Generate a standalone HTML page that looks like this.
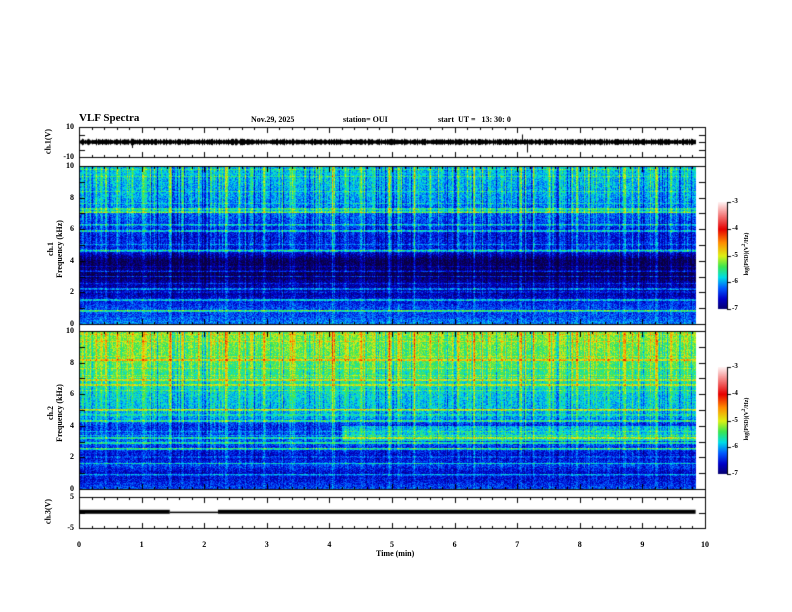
<!DOCTYPE html>
<html><head><meta charset="utf-8"><style>
body{margin:0;background:#fff;}
#wrap{position:relative;width:792px;height:612px;overflow:hidden;background:#fff;font-family:"Liberation Serif",serif;font-weight:bold;color:#000;}
canvas{position:absolute;left:0;top:0;}
.t{position:absolute;font-size:8px;white-space:nowrap;}
.rot{position:absolute;transform:rotate(-90deg);transform-origin:center;font-size:8px;white-space:nowrap;text-align:center;}
</style></head><body>
<div id="wrap">
<canvas id="c" width="792" height="612"></canvas>
<div class="t" style="left:79px;top:112px;font-size:11px">VLF Spectra</div>
<div class="t" style="left:251px;top:115px">Nov.29, 2025</div>
<div class="t" style="left:343px;top:115px">station= OUI</div>
<div class="t" style="left:438px;top:115px">start&nbsp; UT =&nbsp;&nbsp; 13: 30: 0</div>
<div class="rot" style="left:23px;top:137px;width:50px">ch.1(V)</div>
<div class="rot" style="left:5px;top:240px;width:100px;line-height:9px">ch.1<br>Frequency (kHz)</div>
<div class="rot" style="left:5px;top:404px;width:100px;line-height:9px">ch.2<br>Frequency (kHz)</div>
<div class="rot" style="left:23px;top:507px;width:50px">ch.3(V)</div>
<div class="t" style="left:376px;top:549px">Time (min)</div>
<div class="rot" style="left:706px;top:250px;width:80px;font-size:6px">log(PSD)(V<sup>2</sup>/Hz)</div>
<div class="rot" style="left:706px;top:415px;width:80px;font-size:6px">log(PSD)(V<sup>2</sup>/Hz)</div>
<div id="labels"></div>
</div>
<script>
// ---- data arrays ----
const xTicks=[0,1,2,3,4,5,6,7,8,9,10];
const freqTicks=[0,2,4,6,8,10];
const cbTicks=[-3,-4,-5,-6,-7];
// per-frequency mean log PSD (0..10 kHz, 0.5 kHz steps)
const ch1Profile=[-6.1,-6.3,-6.3,-6.5,-6.8,-6.7,-7.1,-7.0,-7.1,-6.6,-6.4,-6.5,-6.4,-6.3,-6.2,-6.1,-6.0,-5.95,-5.9,-5.85,-5.85];
const ch2Profile=[-6.3,-6.5,-6.6,-6.3,-6.6,-6.4,-6.2,-6.3,-6.4,-6.0,-5.9,-5.85,-5.8,-5.7,-5.6,-5.5,-5.4,-5.35,-5.3,-5.25,-5.25];
// 3-4 kHz band after 4.2 min in ch2
const ch2BandStart=4.2, ch2BandLevel=0.5;
// impulsive bursts (time min, strength)
const burstTimes=[0.1,0.35,0.6,0.85,1.05,1.3,1.45,1.65,1.9,2.1,2.35,2.55,2.75,2.95,3.2,3.4,3.6,3.8,4.05,4.25,4.5,4.7,4.95,5.1,5.35,5.6,5.8,6.05,6.3,6.55,6.8,7.05,7.25,7.5,7.7,7.95,8.2,8.45,8.7,8.95,9.2,9.45,9.7];
const burstStrength=[0.8,0.6,1.0,0.7,0.9,0.6,1.2,0.7,0.8,0.6,0.9,0.7,0.8,1.0,0.6,0.9,0.7,0.8,1.0,0.6,0.9,0.7,1.3,0.8,0.7,0.9,0.6,0.8,0.7,0.9,0.6,1.3,0.8,1.1,0.7,1.0,0.8,0.6,0.9,1.1,0.7,0.8,0.6];
// narrowband lines (kHz, extra level)
const ch1Lines=[0.8,1.5,2.2,3.0,3.3,4.6,5.9,6.3,7.1,7.3];
const ch2Lines=[0.9,1.6,2.5,2.9,3.2,4.3,5.0,6.6,6.9,8.2];
// waveform
const ch1Spikes=[0.85,1.3,2.5,3.5,5.3,7.07,7.15,8.3];
const ch1SpikeAmp=[-4,2,-2,-1.5,-1,5,-7,-1];
const ch3Segments=[[0,1.45,1.2,4],[1.45,2.22,1.0,1.5],[2.22,9.85,1.2,4]];
const tMax=9.85;
// ---- layout ----
const X0=79,X1=705;
const P1={t:127,b:157},S1={t:166,b:324},S2={t:331,b:489},P4={t:497,b:528};
const cv=document.getElementById('c'),g=cv.getContext('2d');
const xs=t=>X0+(X1-X0)*t/10;
function cmap(v){
 const stops=[[-7.2,[10,0,60]],[-6.6,[0,0,200]],[-6.2,[0,90,255]],[-5.8,[0,220,230]],[-5.4,[60,230,80]],[-5.0,[220,240,20]],[-4.5,[255,140,0]],[-4.0,[230,0,0]],[-3.0,[255,240,240]]];
 if(v<=stops[0][0])return stops[0][1];
 for(let i=1;i<stops.length;i++){if(v<=stops[i][0]){const a=stops[i-1],b=stops[i],f=(v-a[0])/(b[0]-a[0]);return a[1].map((c,k)=>Math.round(c+(b[1][k]-c)*f));}}
 return stops[stops.length-1][1];
}
function hash(a,b){let h=(a*374761393+b*668265263)|0;h=(h^(h>>>13))*1274126177|0;return ((h^(h>>>16))>>>0)/4294967296;}
function spec(P,profile,lines,isCh2){
 const W=Math.round(xs(tMax))-X0,H=P.b-P.t;
 const img=g.createImageData(W,H);
 for(let x=0;x<W;x++){
  const t=x/(X1-X0)*10;
  let burst=0;
  burstTimes.forEach((bt,i)=>{const d=Math.abs(t-bt)*(X1-X0)/10;if(d<1.5)burst=Math.max(burst,burstStrength[i]*(1-d/2));});
  const hc=hash(x,7);
  const colNoise=hc<0.2?0.5*hash(x,9):(hc>0.75?-0.5*hash(x,13):0);
  for(let y=0;y<H;y++){
   const f=10*(H-1-y)/(H-1);
   const fi=f*2,i0=Math.floor(fi),i1=Math.min(20,i0+1);
   let v=profile[i0]+(profile[i1]-profile[i0])*(fi-i0);
   if(isCh2&&t>ch2BandStart&&f>3&&f<4)v+=ch2BandLevel;
   v+=burst*(0.2+0.7*f/10)+colNoise*(0.3+f/10);
   lines.forEach(l=>{if(Math.abs(f-l)<0.05)v+=0.6;});
   if(hash(y,3)<0.1)v+=0.3;
   v+=(hash(x,y)-0.5)*0.6;
   const c=cmap(v),k=(y*W+x)*4;
   img.data[k]=c[0];img.data[k+1]=c[1];img.data[k+2]=c[2];img.data[k+3]=255;
  }
 }
 g.putImageData(img,X0,P.t);
}
spec(S1,ch1Profile,ch1Lines,false);
spec(S2,ch2Profile,ch2Lines,true);
// waveform ch1
const y1=v=>P1.t+(P1.b-P1.t)*(10-v)/20;
g.fillStyle='#000';
for(let x=X0;x<=xs(tMax);x++){const a=1+hash(x,11)*1.2;g.fillRect(x,y1(a),1,y1(-a)-y1(a));}
ch1Spikes.forEach((t,i)=>{const a=ch1SpikeAmp[i];g.fillRect(Math.round(xs(t)),Math.min(y1(0),y1(a)),1,Math.abs(y1(a)-y1(0)));});
// ch3
const y4=v=>P4.t+(P4.b-P4.t)*(5-v)/10;
ch3Segments.forEach(s=>{g.fillRect(xs(s[0]),y4(s[2])-s[3]/2+3,xs(s[1])-xs(s[0]),s[3]);});
// frames
g.strokeStyle='#000';g.lineWidth=1;
g.strokeRect(X0+.5,P1.t+.5,X1-X0,P4.b-P1.t);
[[P1.b,S1.t],[S1.b,S2.t],[S2.b,P4.t]].forEach(([a,b])=>{g.beginPath();g.moveTo(X0,a+.5);g.lineTo(X1,a+.5);g.moveTo(X0,b+.5);g.lineTo(X1,b+.5);g.stroke();});
// x ticks
[P1,S1,S2,P4].forEach(P=>{for(let m=0;m<=50;m++){const x=Math.round(xs(m/5))+.5,L=m%5?3:6;g.beginPath();g.moveTo(x,P.t);g.lineTo(x,P.t+L);g.moveTo(x,P.b+1);g.lineTo(x,P.b+1-L);g.stroke();}});
// y ticks
function yt(P,vals,lo,hi){vals.forEach(v=>{const y=Math.round(P.b-(P.b-P.t)*(v-lo)/(hi-lo))+.5;g.beginPath();g.moveTo(X0,y);g.lineTo(X0+6,y);g.moveTo(X1,y);g.lineTo(X1-6,y);g.stroke();});}
yt(S1,[0,1,2,3,4,5,6,7,8,9,10],0,10);yt(S2,[0,1,2,3,4,5,6,7,8,9,10],0,10);
yt(P1,[-10,-5,0,5,10],-10,10);yt(P4,[-5,0,5],-5,5);
// colorbars
function cbar(t,b){for(let y=t;y<b;y++){const v=-7+4*(b-y)/(b-t);const c=cmap(v);g.fillStyle=`rgb(${c})`;g.fillRect(718,y,9,1);}
 g.strokeStyle='#000';g.beginPath();g.moveTo(727.5,t);g.lineTo(727.5,b);g.stroke();
 cbTicks.forEach(v=>{const y=Math.round(b-(b-t)*(v+7)/4)+.5;g.beginPath();g.moveTo(727,y);g.lineTo(731,y);g.stroke();});}
cbar(202,309);cbar(367,474);
// labels
const L=document.getElementById('labels');
function lab(txt,x,y,name,al,fs){const d=document.createElement('div');d.className='t';d.textContent=txt;d.style.top=(y-5)+'px';
 if(fs)d.style.fontSize=fs+'px';
 if(al==='r'){d.style.right=(792-x)+'px';}else if(al==='c'){d.style.left=(x-10)+'px';d.style.width='20px';d.style.textAlign='center';}else d.style.left=x+'px';
 
 
 L.appendChild(d);}
xTicks.forEach(t=>lab(String(t),xs(t),545,'x-tick-label','c'));
freqTicks.forEach(v=>{lab(String(v),74,S1.b-(S1.b-S1.t)*v/10,'ch1-freq-tick-label','r');lab(String(v),74,S2.b-(S2.b-S2.t)*v/10,'ch2-freq-tick-label','r');});
lab('10',74,P1.t,'ch1-volt-tick-label','r');lab('-10',74,P1.b,'ch1-volt-tick-label','r');
lab('5',74,P4.t,'ch3-volt-tick-label','r');lab('-5',74,P4.b,'ch3-volt-tick-label','r');
cbTicks.forEach(v=>{lab(String(v),732,309-107*(v+7)/4,'colorbar1-tick-label','l',7);lab(String(v),732,474-107*(v+7)/4,'colorbar2-tick-label','l',7);});
</script>
</body></html>
